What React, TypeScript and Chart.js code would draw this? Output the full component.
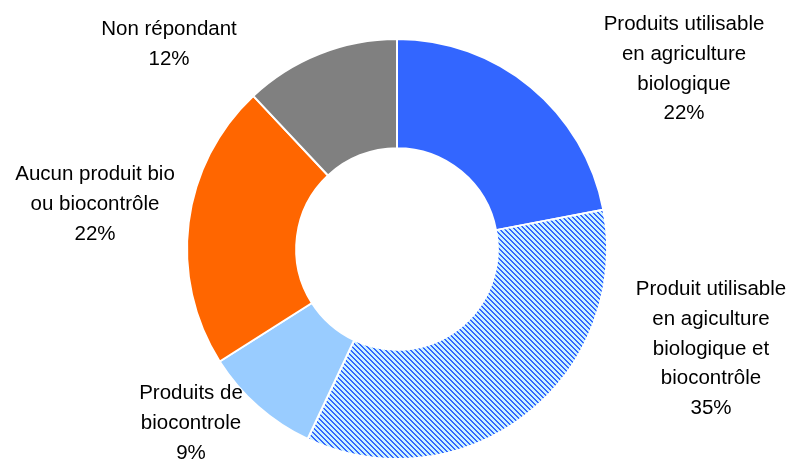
import React, { useEffect, useRef } from "react";
import { Chart, registerables } from "chart.js";

Chart.register(...registerables);

const categories = [
  "Produits utilisable en agriculture biologique",
  "Produit utilisable en agiculture biologique et biocontrôle",
  "Produits de biocontrole",
  "Aucun produit bio ou biocontrôle",
  "Non répondant",
];
const values = [22, 35, 9, 22, 12];
const labelLines: string[][] = [
  ["Produits utilisable", "en agriculture", "biologique", "22%"],
  ["Produit utilisable", "en agiculture", "biologique et", "biocontrôle", "35%"],
  ["Produits de", "biocontrole", "9%"],
  ["Aucun produit bio", "ou biocontrôle", "22%"],
  ["Non répondant", "12%"],
];
// label block: centre x offset and first baseline offset from doughnut centre (layout)
const labelOffsets: [number, number][] = [
  [287, -219],
  [314, 46],
  [-206, 150],
  [-302, -69],
  [-228, -214],
];

function makeHatch(): CanvasPattern | string {
  const size = 5;
  const c = document.createElement("canvas");
  c.width = size;
  c.height = size;
  const ctx = c.getContext("2d");
  if (!ctx) return "#3366FF";
  const img = ctx.createImageData(size, size);
  for (let y = 0; y < size; y++) {
    for (let x = 0; x < size; x++) {
      const d = (((x - y) % size) + size) % size;
      const dark = d === 0 || d === 1;
      const i = (y * size + x) * 4;
      if (dark) {
        img.data[i] = 0x33; img.data[i + 1] = 0x66; img.data[i + 2] = 0xff;
      } else {
        img.data[i] = 0xcc; img.data[i + 1] = 0xf2; img.data[i + 2] = 0xff;
      }
      img.data[i + 3] = 255;
    }
  }
  ctx.putImageData(img, 0, 0);
  return ctx.createPattern(c, "repeat") || "#3366FF";
}

const labelPlugin = {
  id: "outLabels",
  afterDraw(chart: any) {
    const meta = chart.getDatasetMeta(0);
    const arc = meta.data[0];
    if (!arc) return;
    const cx = arc.x;
    const cy = arc.y;
    const ctx = chart.ctx;
    ctx.save();
    ctx.fillStyle = "#000";
    ctx.font = "20.5px 'Liberation Sans', Arial, sans-serif";
    ctx.textAlign = "center";
    ctx.textBaseline = "alphabetic";
    const lh = 29.8;
    labelLines.forEach((lines, i) => {
      const [ox, oy] = labelOffsets[i];
      lines.forEach((t, j) => ctx.fillText(t, cx + ox, cy + oy + j * lh));
    });
    ctx.restore();
  },
};

export default function App() {
  const ref = useRef<HTMLCanvasElement>(null);
  useEffect(() => {
    document.body.style.margin = "0";
    const canvas = ref.current;
    if (!canvas) return;
    const chart = new Chart(canvas, {
      type: "doughnut",
      data: {
        labels: categories,
        datasets: [
          {
            data: values,
            backgroundColor: ["#3366FF", makeHatch(), "#99CCFF", "#FF6600", "#808080"],
            borderColor: "#FFFFFF",
            borderWidth: 2,
          },
        ],
      },
      options: {
        animation: false,
        responsive: false,
        cutout: "48%",
        layout: { padding: { top: 38, bottom: 0, left: 4, right: 0 } },
        plugins: {
          legend: { display: false },
          tooltip: { enabled: false },
        },
      },
      plugins: [labelPlugin],
    });
    return () => chart.destroy();
  }, []);
  return (
    <div style={{ width: 790, height: 460 }}>
      <canvas ref={ref} width={790} height={460} />
    </div>
  );
}
